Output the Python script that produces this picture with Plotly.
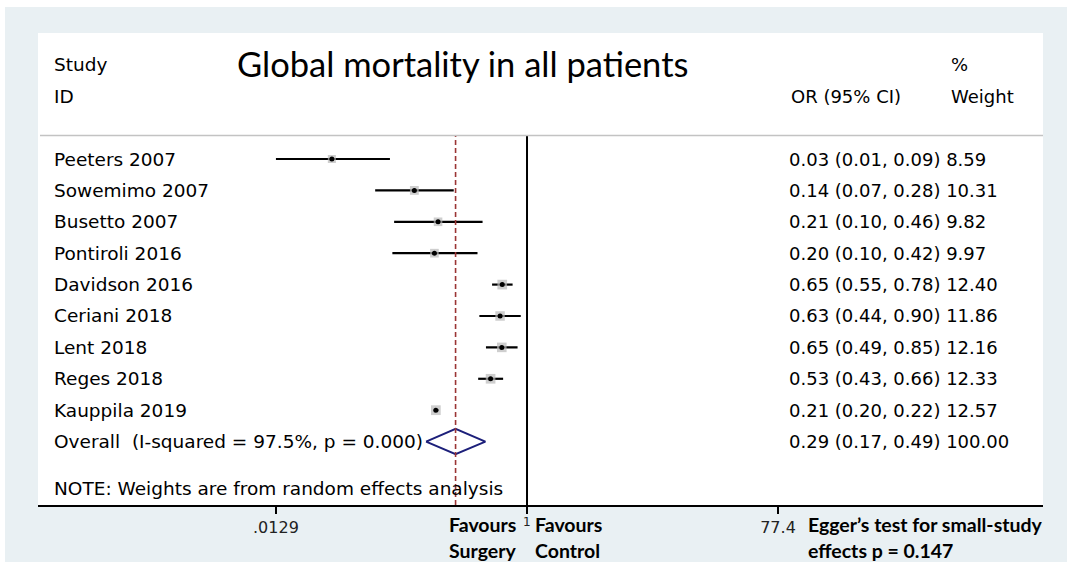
import plotly.graph_objects as go

# ---------------- data ----------------
studies = ["Peeters 2007", "Sowemimo 2007", "Busetto 2007", "Pontiroli 2016",
           "Davidson 2016", "Ceriani 2018", "Lent 2018", "Reges 2018", "Kauppila 2019"]
odds = [0.034, 0.142, 0.214, 0.201, 0.651, 0.627, 0.646, 0.532, 0.206]
ci_low = [0.0129, 0.072, 0.100, 0.097, 0.546, 0.438, 0.491, 0.429, 0.198]
ci_high = [0.093, 0.281, 0.463, 0.424, 0.779, 0.897, 0.849, 0.661, 0.217]
weights = [8.59, 10.31, 9.82, 9.97, 12.40, 11.86, 12.16, 12.33, 12.57]

overall_label = "Overall  (I-squared = 97.5%, p = 0.000)"
overall_or = 0.29
overall_low = 0.174
overall_high = 0.486
overall_weight = 100.00

tick_vals = [0.0129, 1, 77.4]
tick_text = [".0129", "", "77.4"]

title_text = "Global mortality in all patients"
note_text = "NOTE: Weights are from random effects analysis"
egger_lines = ["Egger\u2019s test for small-study", "effects p = 0.147"]
favours_left = ["Favours", "Surgery"]
favours_right = ["Favours", "Control"]

# ---------------- geometry helpers ----------------
PLOT_L, PLOT_R, PLOT_T, PLOT_B = 38, 1043, 33, 505
W, H = 1067, 562
BG = "#e9f0f3"


def px_x(px):
    return (px - PLOT_L) / (PLOT_R - PLOT_L)


def px_y(px):
    return (PLOT_B - px) / (PLOT_B - PLOT_T)


rows = list(range(1, len(studies) + 1))
overall_row = len(studies) + 1
header_sep = 0.25
y_top, y_bot = -3.013, 12.02

fig = go.Figure()

# CI lines
xs, ys = [], []
for lo, hi, r in zip(ci_low, ci_high, rows):
    xs += [lo, hi, None]
    ys += [r, r, None]
fig.add_trace(go.Scatter(x=xs, y=ys, mode="lines",
                         line=dict(color="black", width=2.2),
                         hoverinfo="skip", showlegend=False))

# weight boxes
fig.add_trace(go.Scatter(x=odds, y=rows, mode="markers",
                         marker=dict(symbol="square", color="#b9b9b9",
                                     size=[2.75 * w ** 0.5 for w in weights],
                                     line=dict(width=0)),
                         hoverinfo="skip", showlegend=False))
# point estimates
fig.add_trace(go.Scatter(x=odds, y=rows, mode="markers",
                         marker=dict(symbol="circle", color="black", size=5),
                         hoverinfo="skip", showlegend=False))

# overall diamond
dh = 0.404
fig.add_trace(go.Scatter(x=[overall_low, overall_or, overall_high, overall_or, overall_low],
                         y=[overall_row, overall_row - dh, overall_row, overall_row + dh, overall_row],
                         mode="lines", line=dict(color="#1c1f7a", width=2),
                         hoverinfo="skip", showlegend=False))

shapes = [
    dict(type="line", xref="x", yref="y", x0=1, x1=1, y0=y_bot, y1=header_sep,
         line=dict(color="black", width=2)),
    dict(type="line", xref="x", yref="y", x0=overall_or, x1=overall_or, y0=y_bot, y1=header_sep,
         line=dict(color="#9b3535", width=1.6, dash="5px,3px")),
    dict(type="line", xref="paper", yref="y", x0=px_x(40), x1=1, y0=header_sep, y1=header_sep,
         line=dict(color="#c3c3c3", width=1.5)),
    # thin white frame strips at the top and left of the picture
    dict(type="rect", xref="paper", yref="paper", x0=px_x(0), x1=px_x(W), y0=px_y(0), y1=px_y(7),
         fillcolor="white", line=dict(width=0), layer="below"),
    dict(type="rect", xref="paper", yref="paper", x0=px_x(0), x1=px_x(5), y0=px_y(0), y1=px_y(H),
         fillcolor="white", line=dict(width=0), layer="below"),
]

FONT = "DejaVu Sans"
ann = []


def txt(text, x, y, xref="paper", yref="y", xanchor="left", size=18, family=FONT,
        color="black", bold=False):
    ann.append(dict(text=("<b>%s</b>" % text) if bold else text, x=x, y=y, xref=xref, yref=yref,
                    xanchor=xanchor, yanchor="middle", showarrow=False,
                    font=dict(family=family, size=size, color=color)))


NAME_FS = 18.5
NUM_FS = 18

# headers
txt("Study", px_x(52), -2, size=NAME_FS)
txt("ID", px_x(52), -1, size=NAME_FS)
txt("%", px_x(949), -2, size=NUM_FS)
txt("OR (95% CI)", px_x(789), -1, size=NUM_FS)
txt("Weight", px_x(949), -1, size=NUM_FS)
txt(title_text, px_x(462), -2.05, xanchor="center", size=34.5, family="Lato")

# rows
for name, o, lo, hi, w, r in zip(studies, odds, ci_low, ci_high, weights, rows):
    txt(name, px_x(52), r, size=NAME_FS)
    txt("%.2f (%.2f, %.2f) %.2f" % (o, lo, hi, w), px_x(787), r, size=NUM_FS)
txt(overall_label, px_x(52), overall_row, size=NAME_FS)
txt("%.2f (%.2f, %.2f) %.2f" % (overall_or, overall_low, overall_high, overall_weight),
    px_x(787), overall_row, size=NUM_FS)
txt(note_text, px_x(52), 11.5, size=NAME_FS)

# bottom annotations
for i, (a, b, c) in enumerate(zip(favours_left, favours_right, egger_lines)):
    yy = px_y(524 + 26 * i)
    txt(a, px_x(447), yy, yref="paper", size=19.5, family="Lato", bold=True)
    txt(b, px_x(533), yy, yref="paper", size=19.5, family="Lato", bold=True)
    txt(c, px_x(806), yy, yref="paper", size=19.5, family="Lato", bold=True)
txt("1", px_x(527), px_y(522), yref="paper", xanchor="center", size=12, color="#222")

fig.update_layout(
    width=W, height=H,
    margin=dict(l=PLOT_L, r=W - PLOT_R, t=PLOT_T, b=H - PLOT_B, pad=0),
    paper_bgcolor=BG, plot_bgcolor="white",
    shapes=shapes, annotations=ann, showlegend=False,
    xaxis=dict(type="log", range=[-3.68, 3.883], tickvals=tick_vals, ticktext=tick_text,
               ticks="outside", ticklen=7, tickwidth=1.5, tickcolor="black",
               showline=True, linecolor="black", linewidth=2,
               showgrid=False, zeroline=False,
               tickfont=dict(family=FONT, size=16, color="#222")),
    yaxis=dict(range=[y_bot, y_top], visible=False, showgrid=False, zeroline=False),
)

fig.write_html("out.html", config={"displayModeBar": False},
               post_script="document.body.style.margin='0';document.body.style.background='%s';" % BG)
